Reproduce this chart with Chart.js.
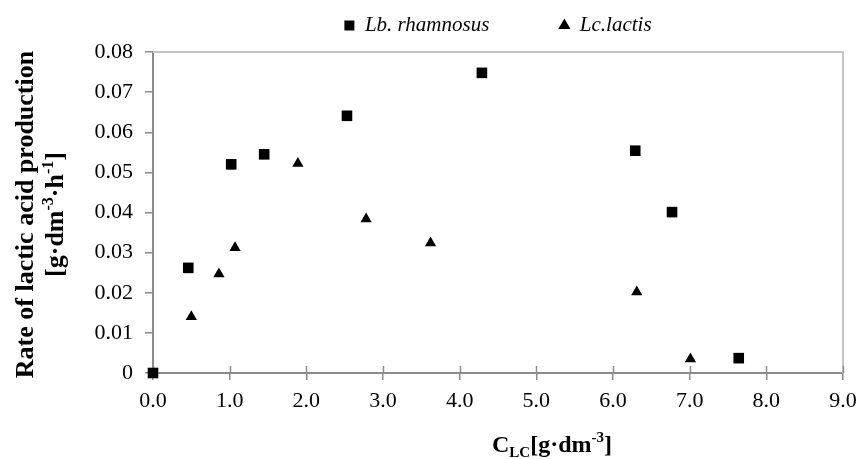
<!DOCTYPE html>
<html>
<head>
<meta charset="utf-8">
<script src="https://cdn.jsdelivr.net/npm/chart.js@4.4.0/dist/chart.umd.min.js"></script>
<style>
  body { margin: 0; background: #fff; }
</style>
</head>
<body>
<canvas id="chart" width="861" height="459"></canvas>
<script>
// -------------------------
// Datos
// -------------------------
const rhamnosusX = [0.0, 0.46, 1.02, 1.45, 2.53, 4.29, 6.29, 6.77, 7.64];
const rhamnosusY = [0.0, 0.0262, 0.0520, 0.0545, 0.0641, 0.0748, 0.0554, 0.0401, 0.0037];
const lactisX = [0.50, 0.86, 1.07, 1.89, 2.78, 3.62, 6.31, 7.01];
const lactisY = [0.0140, 0.0247, 0.0312, 0.0522, 0.0384, 0.0324, 0.0202, 0.0035];

const xTickLabels = ["0.0", "1.0", "2.0", "3.0", "4.0", "5.0", "6.0", "7.0", "8.0", "9.0"];
const yTickLabels = ["0", "0.01", "0.02", "0.03", "0.04", "0.05", "0.06", "0.07", "0.08"];

const seriesNames = ["Lb. rhamnosus", "Lc.lactis"];
// -------------------------

const serif = "'Liberation Serif', 'Times New Roman', serif";
const axisGray = "#8c8c8c";

// texto con sub/superíndices: [texto, modo] modo 0 normal, 1 sub, -1 sup
function drawRich(ctx, parts, cx, baseY, size) {
  const fontOf = (m) => "bold " + (m === 0 ? size : Math.round(size * 0.62)) + "px " + serif;
  let total = 0;
  parts.forEach(([t, m]) => { ctx.font = fontOf(m); total += ctx.measureText(t).width; });
  let x = cx - total / 2;
  ctx.textAlign = "left";
  ctx.textBaseline = "alphabetic";
  parts.forEach(([t, m]) => {
    ctx.font = fontOf(m);
    const dy = m === 1 ? size * 0.22 : (m === -1 ? -size * 0.4 : 0);
    ctx.fillText(t, x, baseY + dy);
    x += ctx.measureText(t).width;
  });
}

const extras = {
  id: "extras",
  afterInit(chart) {
    // altura fija de la leyenda
    const lg = chart.legend;
    const fit = lg.fit;
    lg.fit = function () { fit.call(this); this.height = 107; };
  },
  beforeDatasetsDraw(chart) {
    const { ctx, chartArea: a, scales } = chart;
    ctx.save();
    // borde del área de trazado (arriba y derecha)
    ctx.strokeStyle = "#c4c4c4";
    ctx.lineWidth = 2;
    ctx.beginPath();
    ctx.moveTo(a.left, a.top);
    ctx.lineTo(a.right, a.top);
    ctx.lineTo(a.right, a.bottom);
    ctx.stroke();
    // marcas del eje x hacia adentro
    ctx.strokeStyle = axisGray;
    ctx.lineWidth = 1.5;
    scales.x.ticks.forEach((t) => {
      const px = Math.round(scales.x.getPixelForValue(t.value)) + 0.5;
      ctx.beginPath();
      ctx.moveTo(px, a.bottom);
      ctx.lineTo(px, a.bottom - 7);
      ctx.stroke();
    });
    ctx.restore();
  },
  afterDraw(chart) {
    const { ctx, chartArea: a } = chart;
    ctx.save();
    ctx.fillStyle = "#000";
    // título eje x
    drawRich(ctx, [["C", 0], ["LC", 1], ["[g·dm", 0], ["-3", -1], ["]", 0]],
      (a.left + a.right) / 2 + 54, a.bottom + 79, 24);
    // título eje y (dos líneas)
    ctx.translate(a.left, (a.top + a.bottom) / 2 + 2);
    ctx.rotate(-Math.PI / 2);
    drawRich(ctx, [["Rate of lactic acid production", 0]], 0, -120, 26);
    drawRich(ctx, [["[g·dm", 0], ["-3", -1], ["·h", 0], ["-1", -1], ["]", 0]], 0, -90, 26);
    ctx.restore();
  }
};

const ctx = document.getElementById("chart").getContext("2d");
const chart = new Chart(ctx, {
  type: "scatter",
  data: {
    datasets: [
      {
        label: seriesNames[0],
        data: rhamnosusX.map((x, i) => ({ x: x, y: rhamnosusY[i] })),
        pointStyle: "rect",
        pointRadius: 7.5,
        backgroundColor: "#000",
        borderColor: "#000",
        borderWidth: 0,
        clip: false,
      },
      {
        label: seriesNames[1],
        data: lactisX.map((x, i) => ({ x: x, y: lactisY[i] })),
        pointStyle: "triangle",
        pointRadius: 6.5,
        backgroundColor: "#000",
        borderColor: "#000",
        borderWidth: 0,
        clip: false,
      },
    ],
  },
  options: {
    responsive: false,
    animation: false,
    events: [],
    layout: { padding: { top: -55, right: 18, left: 0, bottom: 0 } },
    plugins: {
      tooltip: { enabled: false },
      legend: {
        position: "top",
        fullSize: false,
        labels: {
          usePointStyle: true,
          boxWidth: 10,
          boxHeight: 10,
          padding: 70,
          color: "#000",
          font: { family: serif, size: 21, style: "italic" },
        },
      },
    },
    scales: {
      x: {
        type: "linear",
        min: 0,
        max: 9,
        afterFit(scale) { scale.height = 86; scale.paddingRight = 0; scale.paddingLeft = 0; },
        afterBuildTicks(scale) { scale.ticks = xTickLabels.map((_, i) => ({ value: i })); },
        ticks: {
          padding: 8,
          color: "#000",
          font: { family: serif, size: 22 },
          callback: (v, i) => xTickLabels[i],
        },
        grid: { drawOnChartArea: false, color: axisGray, lineWidth: 1.5, tickLength: 7 },
        border: { color: axisGray, width: 2 },
      },
      y: {
        type: "linear",
        min: 0,
        max: 0.08,
        afterFit(scale) { scale.width = 153; },
        afterBuildTicks(scale) { scale.ticks = yTickLabels.map((_, i) => ({ value: i * 0.01 })); },
        ticks: {
          padding: 12,
          color: "#000",
          font: { family: serif, size: 22 },
          callback: (v, i) => yTickLabels[i],
        },
        grid: { drawOnChartArea: false, color: axisGray, lineWidth: 1.5, tickLength: 8 },
        border: { color: axisGray, width: 2 },
      },
    },
  },
  plugins: [extras],
});
</script>
</body>
</html>
